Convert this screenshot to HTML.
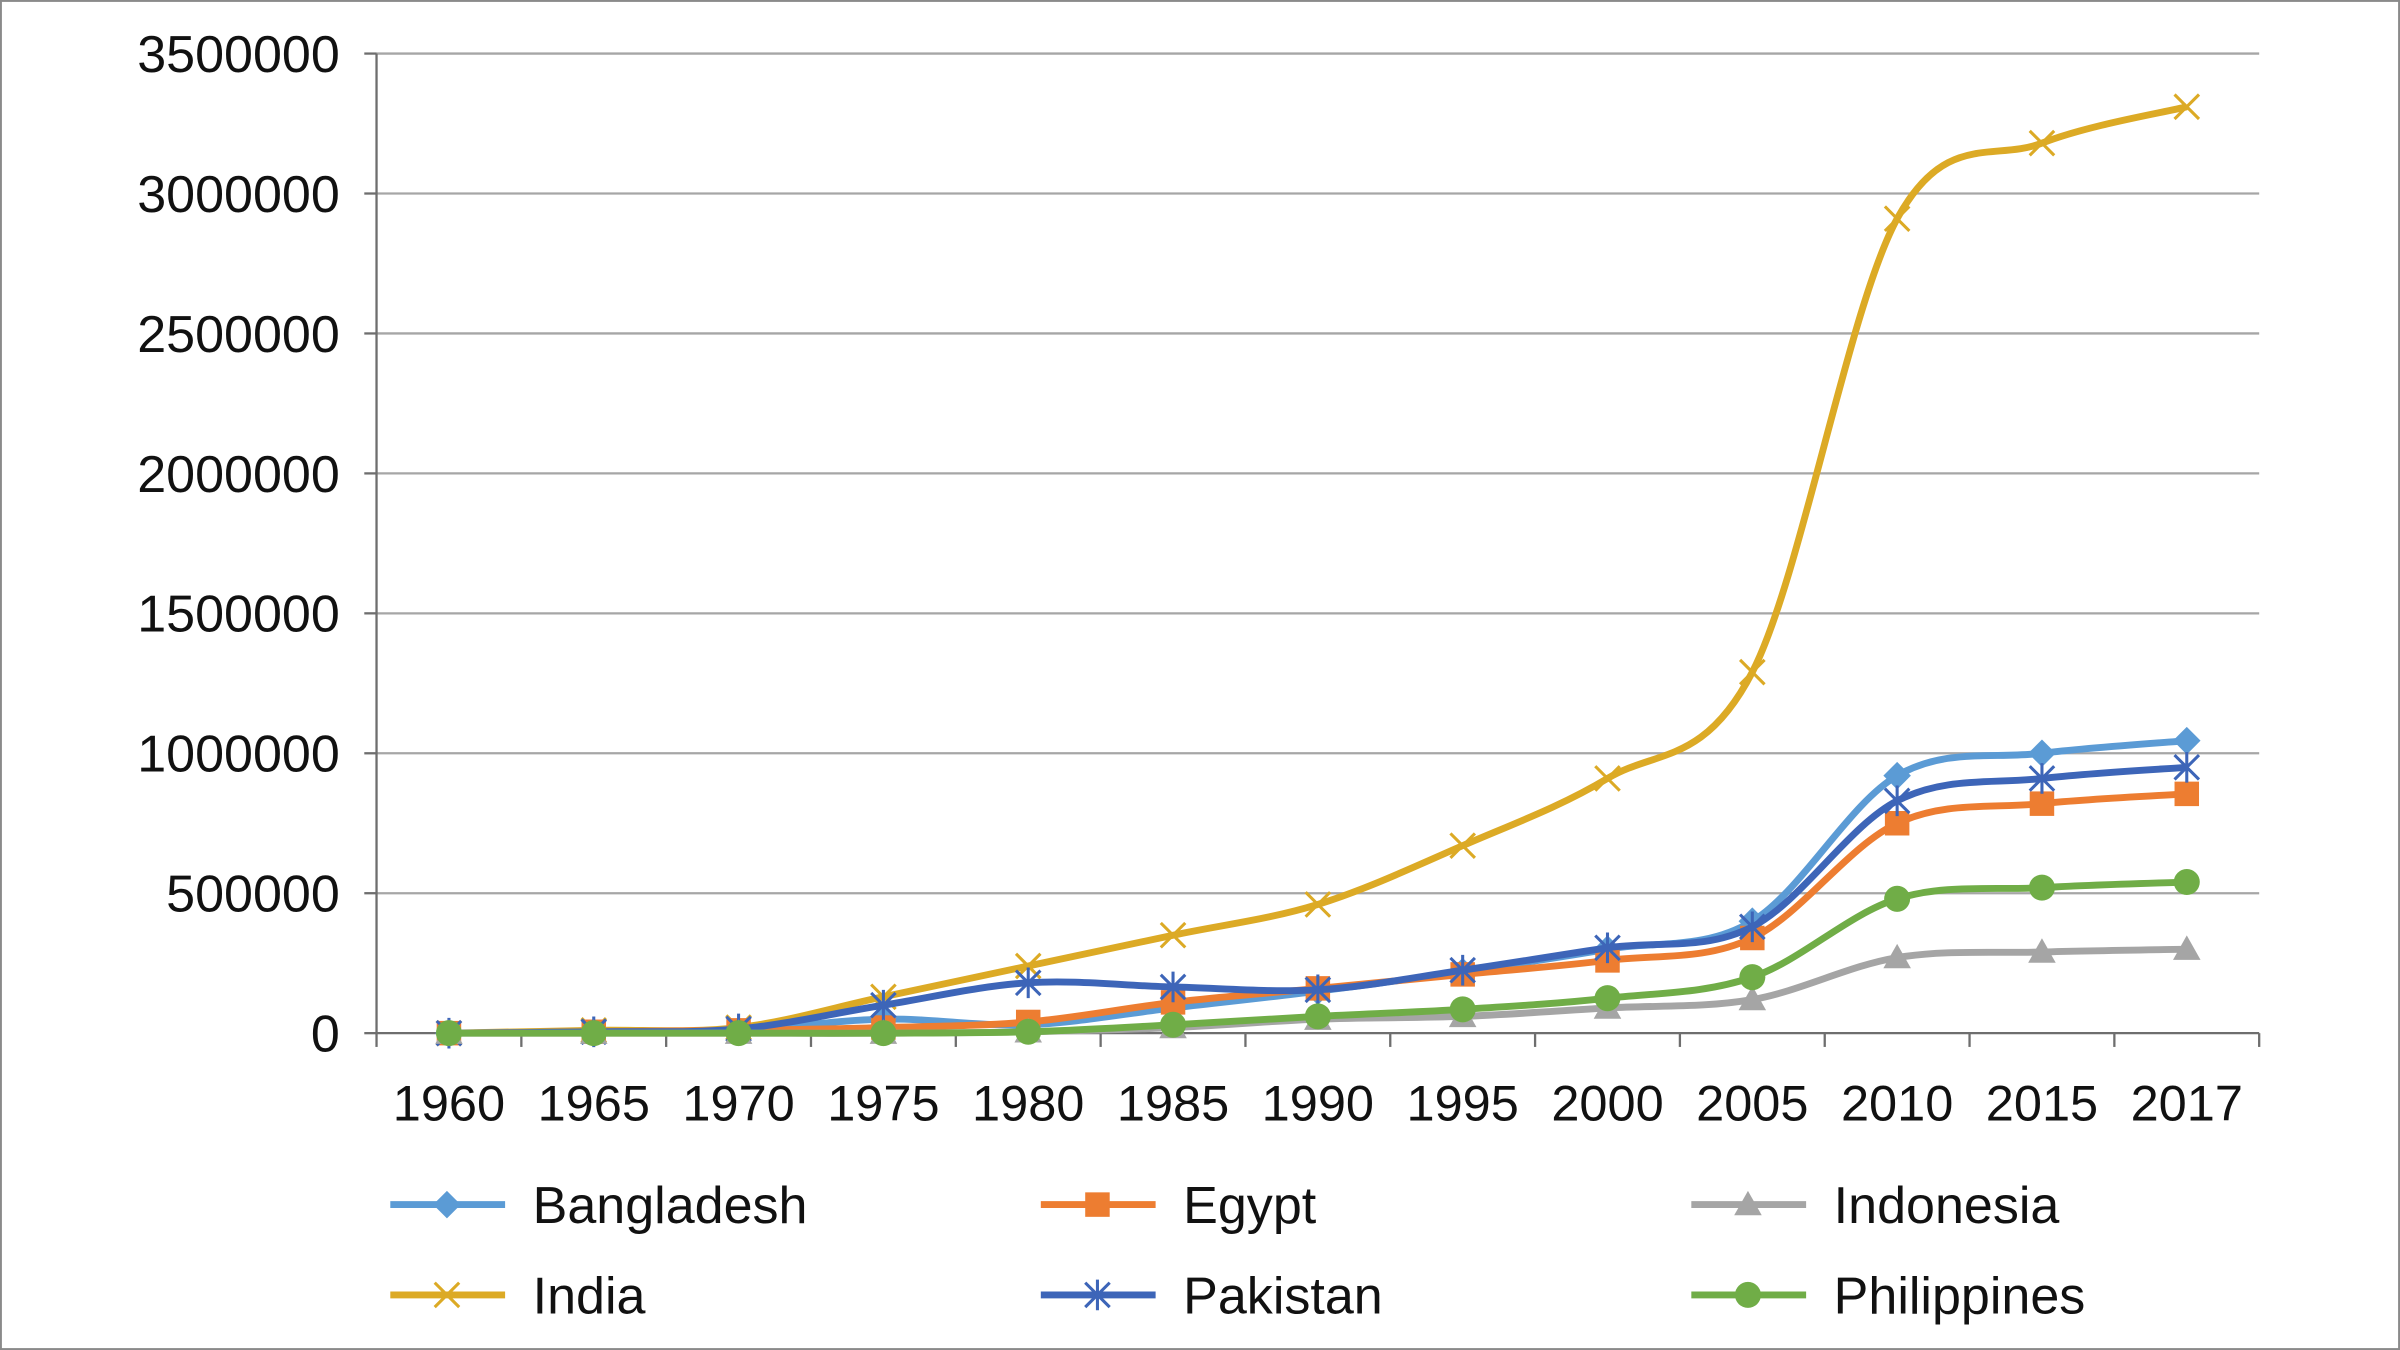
<!DOCTYPE html>
<html><head><meta charset="utf-8"><style>
html,body{margin:0;padding:0;background:#fff;}
svg{display:block;}
text{font-family:"Liberation Sans",sans-serif;fill:#111;}
</style></head><body>
<svg id="c" width="2400" height="1350" viewBox="0 0 1568 882" xmlns="http://www.w3.org/2000/svg">
<rect x="0.5" y="0.5" width="1567" height="881" fill="#fff" stroke="#8a8a8a" stroke-width="1.5"/>
<g id="grid"></g>
<g id="series"></g>
<g id="legend"></g>
</svg>
<script>
var NS="http://www.w3.org/2000/svg";
function el(t,a,p,txt){var e=document.createElementNS(NS,t);for(var k in a)e.setAttribute(k,a[k]);if(txt!=null)e.textContent=txt;p.appendChild(e);return e;}
var g=document.getElementById('grid'),s=document.getElementById('series'),L=document.getElementById('legend');
var x0=246,x1=1476,yb=675,yt=35;
function Y(v){return yb-v/3500000*(yb-yt);}
var step=(x1-x0)/13;
function X(i){return x0+step*(i+0.5);}
for(var k=0;k<=7;k++){var y=Y(k*500000);
 if(k>0)el('line',{x1:x0,x2:x1,y1:y,y2:y,stroke:'#a6a6a6','stroke-width':1.5},g);
 el('line',{x1:x0-8,x2:x0,y1:y,y2:y,stroke:'#6e6e6e','stroke-width':1.5},g);
 el('text',{x:222,y:y+12,'text-anchor':'end','font-size':34},g,String(k*500000));}
el('line',{x1:x0,x2:x0,y1:yt,y2:yb,stroke:'#6e6e6e','stroke-width':1.5},g);
el('line',{x1:x0,x2:x1,y1:yb,y2:yb,stroke:'#6e6e6e','stroke-width':1.5},g);
var yrs=[1960,1965,1970,1975,1980,1985,1990,1995,2000,2005,2010,2015,2017];
for(var i=0;i<=13;i++){var x=x0+step*i;el('line',{x1:x,x2:x,y1:yb,y2:yb+9,stroke:'#6e6e6e','stroke-width':1.5},g);}
yrs.forEach(function(t,i){el('text',{x:X(i),y:732,'text-anchor':'middle','font-size':33},g,String(t));});
function marker(type,x,y,c,p){
 if(type=='d')el('polygon',{points:(x)+','+(y-9)+' '+(x+9)+','+y+' '+x+','+(y+9)+' '+(x-9)+','+y,fill:c},p);
 else if(type=='s')el('rect',{x:x-8,y:y-8,width:16,height:16,fill:c},p);
 else if(type=='t')el('polygon',{points:x+','+(y-9)+' '+(x+9)+','+(y+7)+' '+(x-9)+','+(y+7),fill:c},p);
 else if(type=='c')el('circle',{cx:x,cy:y,r:8.5,fill:c},p);
 else if(type=='x'){el('path',{d:'M'+(x-8)+' '+(y-8)+'L'+(x+8)+' '+(y+8)+'M'+(x+8)+' '+(y-8)+'L'+(x-8)+' '+(y+8),stroke:c,'stroke-width':2,fill:'none'},p);}
 else if(type=='a'){el('path',{d:'M'+(x-8)+' '+(y-8)+'L'+(x+8)+' '+(y+8)+'M'+(x+8)+' '+(y-8)+'L'+(x-8)+' '+(y+8)+'M'+x+' '+(y-10)+'L'+x+' '+(y+10),stroke:c,'stroke-width':2,fill:'none'},p);}
}
function smooth(P){var d='M'+P[0][0]+' '+P[0][1];var t=1/6;
 for(var i=0;i<P.length-1;i++){var p0=P[i>0?i-1:0],p1=P[i],p2=P[i+1],p3=P[i+2<P.length?i+2:i+1];
  var c1x=p1[0]+(p2[0]-p0[0])*t,c1y=p1[1]+(p2[1]-p0[1])*t,c2x=p2[0]-(p3[0]-p1[0])*t,c2y=p2[1]-(p3[1]-p1[1])*t;
  d+=' C'+c1x+' '+c1y+' '+c2x+' '+c2y+' '+p2[0]+' '+p2[1];}
 return d;}
var S=[
 ['Bangladesh','#5b9bd5','d',[0,5000,10000,50000,30000,90000,150000,220000,300000,400000,920000,1000000,1045000]],
 ['Egypt','#ed7d31','s',[0,5000,10000,20000,40000,110000,160000,210000,260000,340000,750000,820000,855000]],
 ['Indonesia','#a5a5a5','t',[0,0,0,0,5000,20000,50000,60000,90000,120000,270000,290000,300000]],
 ['India','#dcaa25','x',[0,10000,20000,130000,240000,350000,460000,670000,910000,1290000,2910000,3180000,3310000]],
 ['Pakistan','#3d65b8','a',[0,5000,15000,100000,180000,165000,155000,225000,305000,380000,830000,910000,950000]],
 ['Philippines','#70ad47','c',[0,0,0,0,5000,30000,60000,85000,125000,200000,480000,520000,540000]]
];
var order=[3,0,1,4,2,5];
order.forEach(function(j){var d=S[j];var P=d[3].map(function(v,i){return [X(i),Y(v)];});
 el('path',{d:smooth(P),fill:'none',stroke:d[1],'stroke-width':4.5,'stroke-linejoin':'round'},s);
 d[3].forEach(function(v,i){marker(d[2],X(i),Y(v),d[1],s);});});
var pos=[[255,787],[680,787],[1105,787],[255,846],[680,846],[1105,846]];
S.forEach(function(d,i){var p=pos[i];
 el('line',{x1:p[0],x2:p[0]+75,y1:p[1],y2:p[1],stroke:d[1],'stroke-width':4.5},L);
 marker(d[2],p[0]+37,p[1],d[1],L);
 el('text',{x:p[0]+93,y:p[1]+12,'font-size':34},L,d[0]);});
</script>
</body></html>
